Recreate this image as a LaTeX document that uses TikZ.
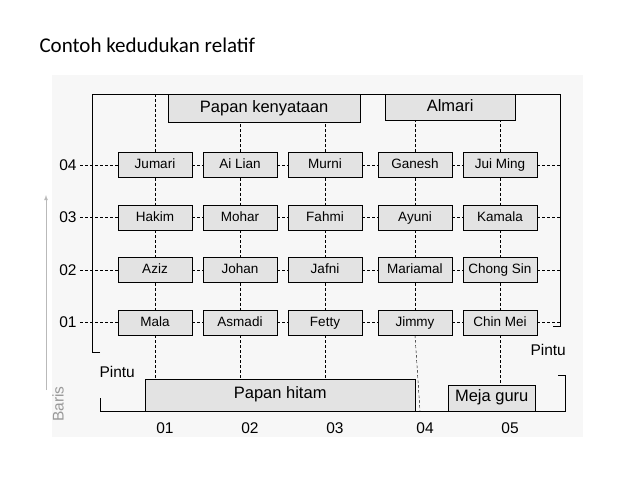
\documentclass[tikz,border=0pt]{standalone}
\usepackage{fontspec}
\setmainfont{Liberation Sans}
\newfontfamily\titlefont{Carlito}
\begin{document}
\begin{tikzpicture}[x=1pt,y=-1pt,
  seat/.style={draw,fill=gray!22,minimum width=74pt,minimum height=25pt,inner sep=1pt,text height=10pt,text depth=3pt,font=\fontsize{13.5}{15}\selectfont},
  furn/.style={draw,fill=gray!22,inner sep=1pt,text height=11pt,text depth=3pt,font=\fontsize{16.5}{18}\selectfont},
  dl/.style={densely dashed,thin},
  lab/.style={font=\fontsize{15.5}{17}\selectfont}]
\useasboundingbox (0,0) rectangle (638,479);
\fill[gray!6] (52,75) rectangle (583,437);
\node[anchor=west,font=\titlefont\fontsize{21}{24}\selectfont] (title) at (36,45) {Contoh kedudukan relatif};
% walls
\draw[thick] (100,352) -- (92,352) -- (92,94) -- (560,94) -- (560,326) -- (553,326);
\draw[thick] (100,398) -- (100,411) -- (565,411) -- (565,375) -- (558,375);
% furniture
\node[furn,minimum width=192pt,minimum height=28pt,anchor=north west] (pk) at (168,94) {Papan kenyataan};
\node[furn,minimum width=130pt,minimum height=26pt,anchor=north west] (al) at (385,94) {Almari};
\node[furn,minimum width=270pt,minimum height=32pt,anchor=south west] (ph) at (145,411) {Papan hitam};
\node[furn,minimum width=87pt,minimum height=26pt,anchor=south west] (mg) at (448,411) {Meja guru};
% seats
\def\cx{{155,240,325,415,500}}
\foreach \nm/\c/\r in {Jumari/1/4,Ai Lian/2/4,Murni/3/4,Ganesh/4/4,Jui Ming/5/4,
  Hakim/1/3,Mohar/2/3,Fahmi/3/3,Ayuni/4/3,Kamala/5/3,
  Aziz/1/2,Johan/2/2,Jafni/3/2,Mariamal/4/2,Chong Sin/5/2,
  Mala/1/1,Asmadi/2/1,Fetty/3/1,Jimmy/4/1,Chin Mei/5/1}{
  \pgfmathsetmacro\xx{\cx[\c-1]}
  \pgfmathsetmacro\yy{165+(4-\r)*52.5}
  \node[seat] (s\c\r) at (\xx,\yy) {\nm};
}
% row labels
\foreach \r/\t in {4/04,3/03,2/02,1/01}{
  \pgfmathsetmacro\yy{165+(4-\r)*52.5}
  \node[lab] (rl\r) at (68,\yy) {\t};
  \coordinate (re\r) at (560,\yy);
  \draw[dl] (rl\r.east) -- (s1\r.west);
  \draw[dl] (s5\r.east) -- (re\r);
  \foreach \c/\n in {1/2,2/3,3/4,4/5}{\draw[dl] (s\c\r.east) -- (s\n\r.west);}
  }
% column labels
\foreach \c/\t in {1/01,2/02,3/03,4/04,5/05}{
  \pgfmathsetmacro\xx{\cx[\c-1]+10}
  \node[lab] (cl\c) at (\xx,428) {\t};
}
% vertical dashed lines
\foreach \c in {1,...,5}{
  \foreach \r/\n in {4/3,3/2,2/1}{\draw[dl] (s\c\r.south) -- (s\c\n.north);}
}
\coordinate (t1) at (155,94);
\draw[dl] (t1) -- (s14.north);
\draw[dl] (s24.north) -- (s24.north |- pk.south);
\draw[dl] (s34.north) -- (s34.north |- pk.south);
\draw[dl] (s44.north) -- (s44.north |- al.south);
\draw[dl] (s54.north) -- (s54.north |- al.south);
\draw[dl] (s11.south) -- (s11.south |- ph.north);
\draw[dl] (s21.south) -- (s21.south |- ph.north);
\draw[dl] (s31.south) -- (s31.south |- ph.north);
\coordinate (b4) at (420,411);
\draw[dl] (s41.south) -- (b4);
\draw[dl] (s51.south) -- (s51.south |- mg.north);
% Pintu
\node[lab,anchor=west] (p1) at (96,372) {Pintu};
\node[lab,anchor=west] (p2) at (527,350) {Pintu};
% Baris
\node[lab,rotate=90,text=gray!80] (baris) at (58,404) {Baris};
\coordinate (ar) at (46,195);
\draw[gray!55,thick,-latex] (46,390) -- (ar);
\end{tikzpicture}
\end{document}
